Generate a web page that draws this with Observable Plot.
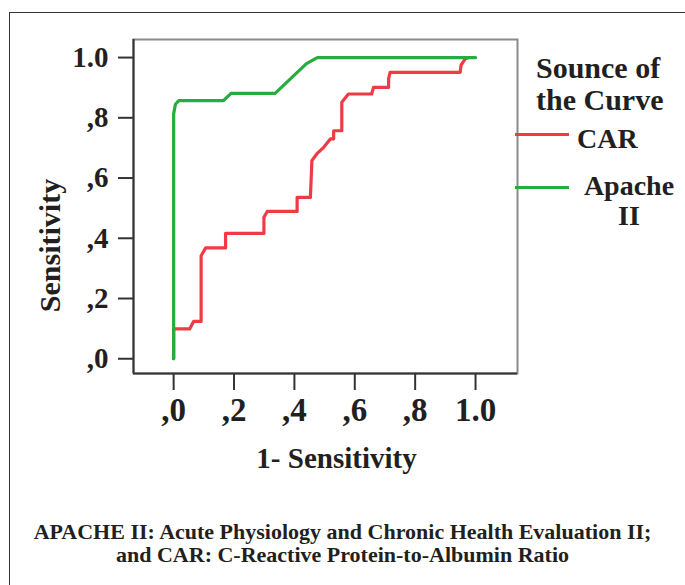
<!DOCTYPE html>
<html><head><meta charset="utf-8">
<script src="https://cdn.jsdelivr.net/npm/d3@7"></script>
<script src="https://cdn.jsdelivr.net/npm/@observablehq/plot@0.6"></script>
<style>
body{margin:0;background:#fff;}
#wrap{position:relative;width:685px;height:585px;overflow:hidden;font-family:"Liberation Serif",serif;font-weight:bold;color:#231f20;}
#box{position:absolute;left:9px;top:12px;width:700px;height:600px;border-left:1.5px solid #333;border-top:1.5px solid #333;box-sizing:border-box;}
#chart{position:absolute;left:0;top:0;}
.t{position:absolute;white-space:nowrap;}
.sw{position:absolute;height:3px;width:54px;}
#caption{position:absolute;left:0;width:685px;top:520px;text-align:center;font-size:22px;line-height:23px;}
</style></head>
<body><div id="wrap"><div id="box"></div><div id="chart"></div>
<div id="legend"></div>
<div id="caption">APACHE II: Acute Physiology and Chronic Health Evaluation II;<br>and CAR: C-Reactive Protein-to-Albumin Ratio</div>
</div>
<script>
const xTicks = [0, 0.2, 0.4, 0.6, 0.8, 1.0];
const xTickLabels = [",0", ",2", ",4", ",6", ",8", "1.0"];
const yTicks = [0, 0.2, 0.4, 0.6, 0.8, 1.0];
const yTickLabels = [",0", ",2", ",4", ",6", ",8", "1.0"];
const xTitle = "1- Sensitivity";
const yTitle = "Sensitivity";
const legendTitle = ["Sounce of", "the Curve"];
const seriesNames = ["CAR", "Apache II"];
const seriesColors = ["#f03a44", "#27ad3f"];

const carFPR = [0, 0, 0.053, 0.066, 0.091, 0.091, 0.106, 0.172, 0.172, 0.299, 0.299, 0.310, 0.409, 0.409, 0.453, 0.458, 0.474, 0.497, 0.519, 0.530, 0.530, 0.557, 0.557, 0.579, 0.656, 0.662, 0.712, 0.712, 0.717, 0.949, 0.952, 0.966, 0.977];
const carTPR = [0, 0.099, 0.099, 0.124, 0.124, 0.342, 0.368, 0.368, 0.416, 0.416, 0.470, 0.489, 0.489, 0.536, 0.536, 0.658, 0.680, 0.702, 0.730, 0.730, 0.757, 0.757, 0.852, 0.879, 0.879, 0.901, 0.901, 0.930, 0.951, 0.951, 0.975, 0.996, 1.0];
const apacheFPR = [0, 0, 0.006, 0.017, 0.165, 0.19, 0.336, 0.44, 0.476, 1.0];
const apacheTPR = [0, 0.813, 0.845, 0.857, 0.857, 0.881, 0.881, 0.98, 1.0, 1.0];

const xDomain = [-0.133, 1.139];
const yDomain = [-0.049, 1.06];

const car = carFPR.map((x, i) => ({x, y: carTPR[i], s: seriesNames[0]}));
const apache = apacheFPR.map((x, i) => ({x, y: apacheTPR[i], s: seriesNames[1]}));

const plot = Plot.plot({
  width: 685,
  height: 490,
  marginLeft: 133,
  marginRight: 168,
  marginTop: 39,
  marginBottom: 117,
  x: {domain: xDomain},
  y: {domain: yDomain},
  style: {fontFamily: "Liberation Serif", fontWeight: "bold", color: "#231f20", background: "transparent", overflow: "visible"},
  marks: [
    Plot.frame({stroke: "#8a8a8a", strokeWidth: 2}),
    Plot.ruleX([xDomain[0]], {stroke: "#333", strokeWidth: 2}),
    Plot.ruleY([yDomain[0]], {stroke: "#333", strokeWidth: 2}),
    Plot.axisY({ticks: yTicks, tickFormat: d => yTickLabels[yTicks.indexOf(d)], tickSize: 15, tickPadding: 10, fontSize: 29, stroke: "#333", strokeWidth: 2, label: null}),
    Plot.axisX({ticks: xTicks, tickFormat: d => xTickLabels[xTicks.indexOf(d)], tickSize: 17, tickPadding: 7, fontSize: 33, stroke: "#333", strokeWidth: 2, label: null}),
    Plot.text([xTitle], {text: d => d, frameAnchor: "bottom", dx: 11, dy: 85, fontSize: 29, textAnchor: "middle", lineAnchor: "middle"}),
    Plot.text([yTitle], {text: d => d, frameAnchor: "left", dx: -83, dy: 39, rotate: -90, fontSize: 30, textAnchor: "middle", lineAnchor: "middle"}),
    Plot.line(car, {x: "x", y: "y", stroke: seriesColors[0], strokeWidth: 3.2, curve: "linear"}),
    Plot.line(apache, {x: "x", y: "y", stroke: seriesColors[1], strokeWidth: 3.2, curve: "linear"})
  ]
});
document.getElementById("chart").appendChild(plot);

const legend = document.getElementById("legend");
legend.innerHTML = `
  <div class="t" style="left:536px;top:52px;font-size:30px;line-height:32px;">${legendTitle[0]}<br>${legendTitle[1]}</div>
  <div class="sw" style="left:515px;top:132.5px;background:${seriesColors[0]}"></div>
  <div class="t" style="left:577px;top:125px;font-size:28px;line-height:28px;">${seriesNames[0]}</div>
  <div class="sw" style="left:515px;top:185.5px;background:${seriesColors[1]}"></div>
  <div class="t" style="left:579px;width:100px;top:171px;font-size:28px;line-height:30px;text-align:center;white-space:normal;">${seriesNames[1].split(" ")[0]}<br>${seriesNames[1].split(" ")[1]}</div>
`;
</script>
</body></html>
